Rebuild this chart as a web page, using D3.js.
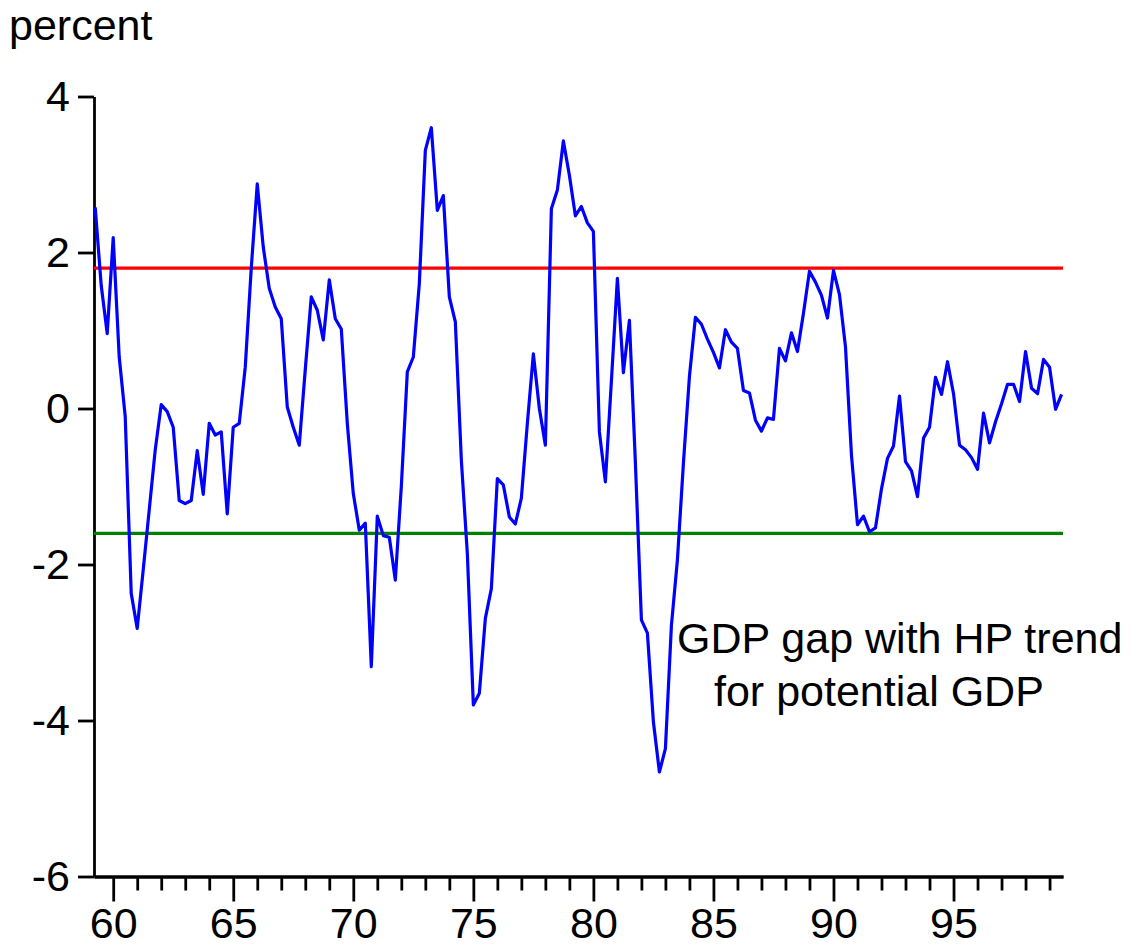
<!DOCTYPE html>
<html>
<head>
<meta charset="utf-8">
<script src="https://cdnjs.cloudflare.com/ajax/libs/d3/7.8.5/d3.min.js"></script>
<style>
  body { margin: 0; background: #fff; }
  svg text { font-family: "Liberation Sans", Arial, sans-serif; fill: #000; }
</style>
</head>
<body>
<div id="chart"></div>
<script>
// quarterly GDP gap, first obs 1959 Q2
var firstYear = 59;
var firstQuarter = 2;
var gap = [
  2.58, 1.58, 0.96, 2.19, 0.66, -0.10, -2.37, -2.82, -2.07, -1.30,
  -0.53, 0.05, -0.04, -0.24, -1.18, -1.22, -1.18, -0.54, -1.10, -0.19,
  -0.34, -0.30, -1.35, -0.24, -0.19, 0.53, 1.80, 2.88, 2.07, 1.54,
  1.30, 1.15, 0.02, -0.24, -0.47, 0.50, 1.43, 1.26, 0.88, 1.65,
  1.15, 1.02, -0.19, -1.09, -1.56, -1.47, -3.31, -1.38, -1.63, -1.65,
  -2.20, -1.00, 0.47, 0.66, 1.60, 3.31, 3.60, 2.54, 2.73, 1.43,
  1.11, -0.66, -1.86, -3.80, -3.65, -2.69, -2.31, -0.90, -0.98, -1.39,
  -1.48, -1.15, -0.19, 0.70, 0.00, -0.47, 2.56, 2.80, 3.43, 2.99,
  2.47, 2.59, 2.38, 2.27, -0.30, -0.94, 0.35, 1.67, 0.46, 1.13,
  -0.70, -2.71, -2.88, -4.02, -4.66, -4.36, -2.78, -1.94, -0.70, 0.41,
  1.17, 1.08, 0.89, 0.72, 0.52, 1.01, 0.85, 0.77, 0.23, 0.20,
  -0.15, -0.29, -0.12, -0.14, 0.77, 0.61, 0.97, 0.73, 1.22, 1.76,
  1.62, 1.45, 1.16, 1.77, 1.46, 0.79, -0.60, -1.49, -1.38, -1.58,
  -1.53, -1.03, -0.64, -0.48, 0.16, -0.68, -0.80, -1.13, -0.38, -0.24,
  0.40, 0.18, 0.60, 0.19, -0.47, -0.53, -0.63, -0.78, -0.06, -0.44,
  -0.17, 0.06, 0.31, 0.31, 0.09, 0.73, 0.26, 0.19, 0.63, 0.53,
  -0.01, 0.18
];
var upperBand = 1.8;
var lowerBand = -1.6;
var yTicks = [-6, -4, -2, 0, 2, 4];
var majorYears = [60, 65, 70, 75, 80, 85, 90, 95];
var minorYears = d3.range(60, 100).filter(function(y) { return y % 5 !== 0; });
var noteLines = ["GDP gap with HP trend", "for potential GDP"];

var width = 1136, height = 948;
var fontSize = 43;

var svg = d3.select("#chart").append("svg")
  .attr("width", width)
  .attr("height", height);

var data = gap.map(function(v, i) {
  return { t: firstYear + (firstQuarter - 1) / 4 + i / 4, v: v };
});

var xScale = d3.scaleLinear().domain([59.2, 99.56]).range([94, 1063]);
var yScale = d3.scaleLinear().domain([-6, 4]).range([876.5, 96.5]);

// plain hyphen for negatives, like the original
var plain = function(d) { return String(d); };

// y axis
var yAxis = d3.axisLeft(yScale)
  .tickValues(yTicks)
  .tickSize(16)
  .tickSizeOuter(0)
  .tickPadding(8)
  .tickFormat(plain);

svg.append("g")
  .attr("class", "y axis")
  .attr("transform", "translate(" + xScale.range()[0] + ",0)")
  .call(yAxis);

// x axis: minor yearly ticks then labelled 5-year ticks
svg.append("g")
  .attr("class", "x axis minor")
  .attr("transform", "translate(0," + yScale(-6) + ")")
  .call(d3.axisBottom(xScale).tickValues(minorYears).tickSize(14).tickSizeOuter(0).tickFormat(""));

svg.append("g")
  .attr("class", "x axis")
  .attr("transform", "translate(0," + yScale(-6) + ")")
  .call(d3.axisBottom(xScale).tickValues(majorYears).tickSize(25).tickSizeOuter(0).tickPadding(6).tickFormat(plain));

svg.selectAll(".axis path, .axis line")
  .attr("stroke", "#000")
  .attr("stroke-width", 2.8);
svg.selectAll(".axis text")
  .style("font-size", fontSize + "px");

// reference bands
svg.append("line")
  .attr("x1", xScale.range()[0]).attr("x2", xScale.range()[1])
  .attr("y1", yScale(upperBand)).attr("y2", yScale(upperBand))
  .attr("stroke", "#ff0000").attr("stroke-width", 3.2);

svg.append("line")
  .attr("x1", xScale.range()[0]).attr("x2", xScale.range()[1])
  .attr("y1", yScale(lowerBand)).attr("y2", yScale(lowerBand))
  .attr("stroke", "#008000").attr("stroke-width", 3.2);

// gap series
var line = d3.line()
  .x(function(d) { return xScale(d.t); })
  .y(function(d) { return yScale(d.v); });

svg.append("path")
  .datum(data)
  .attr("d", line)
  .attr("fill", "none")
  .attr("stroke", "#0000ff")
  .attr("stroke-width", 3.2)
  .attr("stroke-linejoin", "round");

// labels
svg.append("text")
  .attr("x", 9)
  .attr("y", 40)
  .style("font-size", fontSize + "px")
  .text("percent");

svg.append("text")
  .attr("x", 677)
  .attr("y", 653)
  .style("font-size", fontSize + "px")
  .text(noteLines[0]);

svg.append("text")
  .attr("x", 714)
  .attr("y", 706)
  .style("font-size", fontSize + "px")
  .text(noteLines[1]);
</script>
</body>
</html>
